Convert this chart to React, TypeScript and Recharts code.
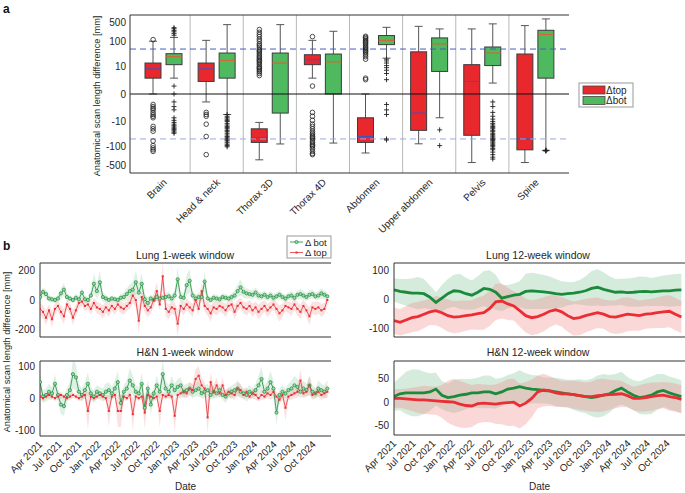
import React from 'react';
import { ComposedChart, Bar, Scatter, Line, Area, XAxis, YAxis, ReferenceLine } from 'recharts';

const FONT = '"Liberation Sans", Arial, Helvetica, sans-serif';
const TEXT = '#262626';
const AXIS = '#333';
const RED = '#e8282d';
const GREEN = '#4fb960';
const LINE_GREEN = '#1b8a3a';
const LINE_RED = '#ea2e34';

// ---------- panel a: box plots ----------
const CATEGORIES = ['Brain', 'Head & neck', 'Thorax 3D', 'Thorax 4D', 'Abdomen', 'Upper abdomen', 'Pelvis', 'Spine'];

const TOP_LO = [0, -1, -315, 3, -173, -77, -400, -400];
const TOP_Q1 = [3, 2, -68, 12, -68, -23, -36, -131];
const TOP_MED = [8, 8, -44, 19, -40, -4.3, 2, -50];
const TOP_Q3 = [14, 14, -20, 30, -7, 39, 12, 32];
const TOP_HI = [100, 108, -11, 108, 0, 370, 295, 395];

const BOT_LO = [3, -5, -78, -72, 22, -7, 1.6, -138];
const BOT_Q1 = [12, 3, -4.3, 0, 74, 6.2, 11, 3];
const BOT_MED = [25, 18, 14, 15.5, 108, 79, 35, 179];
const BOT_Q3 = [33, 35, 35, 32, 165, 134, 60, 262];
const BOT_HI = [140, 430, 430, 240, 340, 295, 460, 710];

const TOP_OUT = [
  [115, -1.5, -2, -2.5, -3, -4, -5, -6, -7, -16, -20, -25, -60, -90, -110, -130, -150],
  [-4, -5, -6, -13, -40, -200],
  [4, 5, 6, 7, 8, 9, 10, 12, 14, 16, 18, 20, 23, 26, 30, 35, 40, 45, 50, 60, 70, 80, 100, 120, 150, 180, 220, 280],
  [150, 1, -4, -6, -9, -13, -16, -20, -25, -30, -35, -40, -45, -50, -60, -70, -80, -90, -100, -120, -150, -180, -200],
  [2.5, 3, 20, 25, 30, 35, 40, 45, 50, 55, 60, 70, 80, 90, 100, 110, 125, 140, 155],
  [],
  [],
  [],
];
const BOT_OUT = [
  [170, 200, 230, 260, 300, 330, 1, 0, -1, -2, -3, -7, -9, -11, -13, -15, -17, -19, -21, -24, -27, -30],
  [-5, -6, -7, -8, -9, -10, -12, -14, -16, -18, -20, -23, -26, -30, -35, -40, -45, -50, -55, -60, -70, -80, -90, -100],
  [],
  [],
  [20, 17, 14, 11, 9, 7, 5, 2.5, -1.5, -3, -5, -50, -55],
  [-22, -90],
  [-1, -2, -4, -6, -8, -10, -12, -14, -16, -18, -20, -23, -26, -30, -34, -38, -42, -47, -52, -58, -65, -72, -80, -90, -100, -115, -130, -160, -200, -250, -295],
  [-135, -138, -142, -145],
];

const A_TICKS = [-500, -100, -10, 0, 10, 100, 500];

// ---------- panel b: time series ----------
const LUNG1_BOT = [20, 55, 40, 10, 5, 0, 10, 45, 70, 20, 10, 0, 15, 5, 50, 5, 0, 30, 110, 60, 120, 20, 10, 0, 10, 5, 0, 15, 20, 40, 60, 70, 120, 50, 110, 5, -20, 10, 0, 20, 10, 15, 20, 25, 10, 30, 140, 20, 15, 100, 130, 30, 10, 20, 20, 125, 10, 0, 15, 10, 5, 20, 15, 10, 20, 30, 60, 85, 55, 45, 40, 35, 50, 30, 25, 35, 20, 30, 15, 25, 35, 20, 10, 25, 30, 15, 35, 40, 30, 20, 35, 40, 25, 30, 45, 35, 25];
const LUNG1_BOT_SD = [25, 30, 30, 25, 20, 20, 25, 35, 45, 30, 20, 20, 25, 25, 35, 25, 20, 40, 70, 50, 80, 35, 25, 20, 20, 20, 20, 25, 30, 40, 45, 50, 80, 60, 70, 30, 40, 25, 20, 25, 25, 20, 25, 30, 25, 40, 80, 30, 30, 70, 80, 35, 25, 30, 30, 70, 25, 20, 25, 25, 20, 25, 25, 20, 25, 30, 45, 55, 40, 35, 30, 30, 35, 30, 25, 30, 25, 30, 25, 25, 30, 25, 25, 25, 30, 25, 30, 35, 30, 25, 30, 30, 25, 30, 35, 30, 25];
const LUNG1_TOP = [-60, -80, -120, -70, -130, -60, -40, -80, -110, -30, -60, -120, -70, -20, -10, -40, -30, -60, -20, -50, -60, -80, -50, -70, -40, -60, -30, -50, -60, -40, -20, 30, 0, -140, 20, -40, -70, -50, 0, 60, -30, 160, -60, -80, -50, -60, -160, -40, -60, -30, -50, -70, 0, -60, 60, -40, -60, -90, -50, -60, -40, -50, -70, -40, -30, -80, -40, -20, -50, -60, -40, -70, -50, -80, -60, -40, -70, -50, -30, -60, -90, -70, -40, -50, -60, -30, -60, -80, -40, -70, -110, -50, -60, -50, -70, -60, 0];
const LUNG1_TOP_SD = [40, 45, 50, 40, 55, 40, 35, 45, 50, 35, 40, 50, 40, 35, 30, 35, 35, 40, 35, 40, 40, 45, 40, 45, 35, 40, 35, 40, 40, 35, 40, 50, 45, 90, 50, 45, 45, 40, 45, 60, 40, 90, 45, 50, 40, 45, 90, 40, 45, 40, 40, 45, 45, 40, 60, 40, 45, 55, 40, 45, 40, 40, 45, 40, 40, 50, 40, 35, 40, 45, 40, 45, 40, 50, 45, 40, 45, 40, 40, 45, 55, 45, 40, 40, 45, 40, 45, 50, 40, 45, 60, 40, 45, 40, 45, 40, 40];

const HN1_BOT = [50, 5, 10, 20, 15, 45, 10, -20, -25, 10, 25, 75, 65, 20, 10, 25, 45, 15, 5, 20, 15, 10, 20, 25, 15, 30, 50, -15, 20, 30, 55, 40, 20, 15, 45, -30, 30, -20, 15, 40, 20, 75, 30, 20, 40, 25, 35, 40, 20, 25, 30, 20, 25, 30, 15, 20, 25, 10, 20, 15, 25, 10, 5, 15, 20, 25, 30, 20, 15, 10, 20, 15, 25, 40, 60, 20, 30, 50, 30, -45, 10, 20, 15, 25, 30, 40, 35, 20, 30, 25, 40, 20, 15, 30, 25, 20, 30];
const HN1_BOT_SD = [30, 20, 20, 25, 20, 30, 20, 30, 30, 20, 25, 45, 40, 25, 20, 25, 35, 20, 20, 20, 20, 20, 25, 25, 20, 25, 35, 25, 20, 25, 40, 30, 20, 20, 35, 35, 25, 30, 20, 30, 20, 45, 25, 20, 30, 20, 25, 25, 20, 20, 20, 20, 20, 25, 15, 20, 20, 15, 20, 15, 20, 15, 20, 15, 20, 20, 25, 20, 15, 20, 20, 15, 20, 30, 40, 20, 25, 35, 25, 40, 20, 20, 15, 20, 25, 30, 25, 20, 25, 20, 30, 20, 15, 25, 20, 20, 25];
const HN1_TOP = [5, 0, 5, 10, 5, 0, 5, 10, 5, 0, 5, 10, 5, 0, 5, 10, -40, 5, 0, 5, 10, 5, 0, -40, 5, 10, -40, -40, 5, 0, 10, -50, 5, 0, 5, -45, 10, 5, 0, 5, -40, 10, 5, 10, 5, -55, 10, 15, 20, 15, 30, 25, 60, 70, 40, 30, -60, 50, 20, 40, 15, 40, 10, 20, 15, 10, 30, 25, 10, 20, 5, 15, 10, 0, 10, 5, 15, 10, 20, 5, -5, 10, -30, 5, 10, 15, 20, 55, 15, 20, 40, 10, 15, 20, 10, 15, 20];
const HN1_TOP_SD = [10, 10, 8, 10, 8, 8, 10, 10, 8, 8, 10, 10, 8, 8, 10, 10, 60, 10, 8, 10, 10, 8, 8, 50, 10, 10, 50, 50, 10, 8, 10, 50, 10, 8, 10, 50, 10, 10, 8, 10, 50, 10, 10, 10, 10, 50, 10, 15, 15, 15, 20, 20, 30, 30, 25, 20, 50, 30, 20, 25, 15, 25, 15, 15, 15, 15, 20, 20, 15, 15, 10, 15, 15, 10, 15, 10, 15, 15, 20, 15, 15, 15, 40, 10, 15, 15, 20, 35, 15, 15, 30, 15, 15, 15, 15, 15, 20];

const LUNG12_BOT = [33, 28, 25, 22, 22, 20, 8, -10, 5, 20, 30, 28, 20, 15, 25, 38, 35, 25, 5, 10, 15, 18, 28, 30, 28, 26, 24, 20, 18, 20, 22, 25, 30, 38, 42, 35, 30, 25, 26, 24, 25, 27, 28, 26, 28, 30, 30, 32, 33];
const LUNG12_BOT_SD = [40, 42, 45, 50, 55, 50, 40, 35, 45, 50, 55, 60, 55, 50, 55, 60, 65, 60, 45, 40, 40, 45, 60, 62, 60, 58, 55, 50, 45, 40, 38, 42, 50, 60, 62, 58, 50, 45, 45, 48, 50, 52, 50, 48, 50, 52, 55, 55, 55];
const LUNG12_TOP = [-72, -78, -70, -62, -58, -50, -42, -38, -45, -55, -60, -58, -55, -52, -48, -45, -30, -8, -5, -15, -22, -38, -55, -62, -58, -50, -40, -35, -42, -55, -65, -62, -55, -50, -45, -50, -58, -60, -55, -50, -52, -55, -50, -48, -45, -42, -40, -50, -60];
const LUNG12_TOP_SD = [45, 45, 48, 50, 50, 48, 45, 50, 52, 55, 55, 55, 52, 50, 55, 58, 60, 62, 60, 55, 50, 55, 58, 60, 60, 58, 55, 50, 50, 55, 58, 60, 58, 55, 52, 50, 55, 58, 60, 58, 55, 52, 50, 50, 52, 55, 55, 55, 55];

const HN12_BOT = [12, 18, 20, 20, 20, 20, 22, 28, 15, 10, 12, 15, 17, 20, 20, 22, 22, 18, 22, 28, 30, 33, 30, 28, 27, 25, 24, 22, 20, 18, 16, 14, 12, 10, 12, 15, 18, 25, 30, 22, 15, 10, 12, 15, 22, 25, 20, 16, 12];
const HN12_BOT_SD = [30, 35, 45, 50, 50, 45, 40, 35, 30, 30, 35, 35, 32, 30, 32, 35, 35, 32, 30, 30, 32, 35, 32, 30, 30, 28, 28, 30, 30, 30, 32, 35, 35, 40, 45, 45, 40, 35, 35, 32, 32, 35, 38, 40, 38, 35, 35, 35, 35];
const HN12_TOP = [8, 8, 7, 6, 5, 5, 4, 3, 2, 1, 0, -4, -7, -8, -3, -2, -3, -4, -2, -1, 0, -8, -2, 8, 22, 26, 24, 20, 18, 18, 16, 14, 12, 12, 14, 15, 16, 17, 18, 14, 8, 8, 10, 12, 14, 15, 12, 10, 6];
const HN12_TOP_SD = [20, 20, 22, 25, 28, 30, 30, 30, 35, 45, 50, 50, 48, 45, 42, 40, 40, 42, 45, 50, 50, 48, 45, 40, 35, 35, 32, 30, 28, 28, 30, 30, 30, 32, 35, 35, 32, 30, 28, 25, 25, 28, 30, 30, 28, 28, 30, 30, 30];

const MONTHS = ['Jan', 'Feb', 'Mar', 'Apr', 'May', 'Jun', 'Jul', 'Aug', 'Sep', 'Oct', 'Nov', 'Dec'];
const DATE_LABELS = ['Apr 2021', 'Jul 2021', 'Oct 2021', 'Jan 2022', 'Apr 2022', 'Jul 2022', 'Oct 2022', 'Jan 2023', 'Apr 2023', 'Jul 2023', 'Oct 2023', 'Jan 2024', 'Apr 2024', 'Jul 2024', 'Oct 2024'];

const DAY = 86400000;
const T0 = Date.UTC(2021, 3, 1);
const T_END = Date.UTC(2024, 11, 22);
const DATE_TICKS = DATE_LABELS.map(s => {
  const [m, y] = s.split(' ');
  return Date.UTC(Number(y), MONTHS.indexOf(m), 1);
});
const fmtDate = (v: number) => {
  const d = new Date(v);
  return `${MONTHS[d.getUTCMonth()]} ${d.getUTCFullYear()}`;
};

const buildRows = (stepDays: number, bot: number[], botSd: number[], top: number[], topSd: number[]) =>
  bot.map((b, i) => ({
    t: T0 + i * stepDays * DAY,
    bot: b,
    botBand: [b - botSd[i], b + botSd[i]],
    top: top[i],
    topBand: [top[i] - topSd[i], top[i] + topSd[i]],
  }));

const boxRows = CATEGORIES.map((name, i) => ({
  name,
  topW: [TOP_LO[i], TOP_HI[i]],
  topBox: [TOP_Q1[i], TOP_Q3[i]],
  topMed: [TOP_MED[i], TOP_MED[i]],
  botW: [BOT_LO[i], BOT_HI[i]],
  botBox: [BOT_Q1[i], BOT_Q3[i]],
  botMed: [BOT_MED[i], BOT_MED[i]],
}));

// outliers sit on a numeric copy of the category axis: group i spans [i, i+1]
const BOX_OFFSET = 0.197;
const topOutPts = TOP_OUT.flatMap((vals, i) => vals.map(v => ({ x: i + 0.5 - BOX_OFFSET, y: v })));
const botOutPts = BOT_OUT.flatMap((vals, i) => vals.map(v => ({ x: i + 0.5 + BOX_OFFSET, y: v })));

const PAD = { left: 7, right: 7 };

const Whisker = (p: any) => {
  const cx = p.x + p.width / 2;
  const y1 = Math.min(p.y, p.y + p.height);
  const y2 = Math.max(p.y, p.y + p.height);
  const h = p.width / 4;
  return (
    <g>
      <line x1={cx} x2={cx} y1={y1} y2={y2} stroke="#555" />
      <line x1={cx - h} x2={cx + h} y1={y1} y2={y1} stroke="#555" />
      <line x1={cx - h} x2={cx + h} y1={y2} y2={y2} stroke="#555" />
    </g>
  );
};
const boxShape = (fill: string) => (p: any) => (
  <rect x={p.x} y={Math.min(p.y, p.y + p.height)} width={p.width} height={Math.abs(p.height)} fill={fill} stroke="#3c3c3c" strokeWidth={1} />
);
const medianShape = (stroke: string) => (p: any) => (
  <line x1={p.x} x2={p.x + p.width} y1={p.y} y2={p.y} stroke={stroke} strokeWidth={1} />
);
const Circ = (p: any) => <circle cx={p.cx} cy={p.cy} r={2.3} fill="none" stroke="#222" strokeWidth={0.8} />;
const Plus = (p: any) => (
  <path d={`M${p.cx - 2.5},${p.cy}h5M${p.cx},${p.cy - 2.5}v5`} stroke="#222" strokeWidth={0.9} />
);

const CatTick = (p: any) => {
  const x = p.x + 4;
  const y = p.y + 8;
  return (
    <text x={x} y={y} transform={`rotate(-45 ${x} ${y})`} textAnchor="end" fontSize={10} fill={TEXT}>
      {p.payload.value}
    </text>
  );
};

const DateTick = (p: any) => {
  const x = p.x + 3;
  const y = p.y + 7;
  return (
    <text x={x} y={y} transform={`rotate(-45 ${x} ${y})`} textAnchor="end" fontSize={10} fill={TEXT}>
      {fmtDate(p.payload.value)}
    </text>
  );
};

const greenDot = (p: any) => (
  <circle key={`g${p.index}`} cx={p.cx} cy={p.cy} r={1.6} fill="#9ad6a8" stroke={LINE_GREEN} strokeWidth={0.7} />
);
const redDot = (p: any) => (
  <rect key={`r${p.index}`} x={p.cx - 1} y={p.cy - 1} width={2} height={2} fill={LINE_RED} />
);

const BoxPanel: React.FC = () => (
  <ComposedChart width={685} height={240} data={boxRows} margin={{ top: 15, right: 116, bottom: 0, left: 0 }} barGap={5}>
    <XAxis dataKey="name" padding={PAD} height={67} interval={0} tickLine={false} tickSize={0} axisLine={{ stroke: AXIS }} tick={<CatTick />} />
    <XAxis xAxisId="bt" dataKey="name" padding={PAD} mirror interval={0} tick={false} tickSize={3} axisLine={false} tickLine={{ stroke: AXIS }} />
    <XAxis xAxisId="top" orientation="top" dataKey="name" padding={PAD} mirror tick={false} tickLine={false} axisLine={{ stroke: AXIS }} />
    <XAxis xAxisId="w" dataKey="name" padding={PAD} hide />
    <XAxis xAxisId="m" dataKey="name" padding={PAD} hide />
    <XAxis xAxisId="num" type="number" dataKey="x" domain={[0, 8]} allowDataOverflow padding={PAD} hide />
    <YAxis
      scale="symlog"
      domain={[-1000, 1000]}
      allowDataOverflow
      ticks={A_TICKS}
      interval={0}
      width={130}
      tickLine={false}
      tickSize={2}
      tickMargin={2}
      axisLine={{ stroke: AXIS }}
      tick={{ fontSize: 10, fill: TEXT }}
    />
    <YAxis yAxisId="lm" scale="symlog" domain={[-1000, 1000]} allowDataOverflow ticks={A_TICKS} interval={0} mirror tick={false} tickSize={3} axisLine={false} tickLine={{ stroke: AXIS }} />
    <YAxis yAxisId="r" orientation="right" scale="symlog" domain={[-1000, 1000]} allowDataOverflow ticks={A_TICKS} interval={0} mirror tick={false} tickSize={3} axisLine={{ stroke: AXIS }} tickLine={{ stroke: AXIS }} width={0} />
    {CATEGORIES.slice(1).map(c => (
      <ReferenceLine key={c} x={c} position="start" stroke="#b8b8b8" />
    ))}
    <Bar xAxisId="w" dataKey="topW" barSize={16} shape={Whisker} isAnimationActive={false} />
    <Bar xAxisId="w" dataKey="botW" barSize={16} shape={Whisker} isAnimationActive={false} />
    <Bar dataKey="topBox" barSize={16} shape={boxShape(RED)} isAnimationActive={false} />
    <Bar dataKey="botBox" barSize={16} shape={boxShape(GREEN)} isAnimationActive={false} />
    <Bar xAxisId="m" dataKey="topMed" barSize={16} shape={medianShape('#3a52c6')} isAnimationActive={false} />
    <Bar xAxisId="m" dataKey="botMed" barSize={16} shape={medianShape('#e8592c')} isAnimationActive={false} />
    <Scatter xAxisId="num" data={topOutPts} dataKey="y" shape={Circ} isAnimationActive={false} />
    <Scatter xAxisId="num" data={botOutPts} dataKey="y" shape={Plus} isAnimationActive={false} />
    <ReferenceLine y={0} stroke="#111" />
    <ReferenceLine y={50} stroke="#4a5cc4" strokeDasharray="6 4" />
    <ReferenceLine y={-50} stroke="#9aa6e0" strokeDasharray="6 4" />
  </ComposedChart>
);

interface TimeProps {
  rows: any[];
  width: number;
  height: number;
  marginTop: number;
  marginRight: number;
  xHeight: number;
  yDomain: [number, number];
  yTicks: number[];
  dates: boolean;
  weekly: boolean;
}

const TimePanel: React.FC<TimeProps> = ({ rows, width, height, marginTop, marginRight, xHeight, yDomain, yTicks, dates, weekly }) => (
  <ComposedChart width={width} height={height} data={rows} margin={{ top: marginTop, right: marginRight, bottom: 0, left: 0 }}>
    <XAxis
      dataKey="t"
      type="number"
      domain={[T0, T_END]}
      allowDataOverflow
      ticks={DATE_TICKS}
      interval={0}
      height={xHeight}
      tickLine={false}
      tickSize={0}
      axisLine={{ stroke: AXIS }}
      tick={dates ? <DateTick /> : false}
      label={dates ? { value: 'Date', position: 'insideBottom', offset: 3, fontSize: 10, fill: TEXT } : undefined}
    />
    <XAxis xAxisId="bt" dataKey="t" type="number" domain={[T0, T_END]} allowDataOverflow ticks={DATE_TICKS} interval={0} mirror tick={false} tickSize={3} axisLine={false} tickLine={{ stroke: AXIS }} />
    <XAxis xAxisId="top" orientation="top" dataKey="t" type="number" domain={[T0, T_END]} allowDataOverflow ticks={DATE_TICKS} interval={0} mirror tick={false} tickSize={3} axisLine={{ stroke: AXIS }} tickLine={{ stroke: AXIS }} />
    <YAxis domain={yDomain} allowDataOverflow ticks={yTicks} interval={0} width={40} tickLine={false} tickSize={3} tickMargin={2} axisLine={{ stroke: AXIS }} tick={{ fontSize: 10, fill: TEXT }} />
    <YAxis yAxisId="lm" domain={yDomain} allowDataOverflow ticks={yTicks} interval={0} mirror tick={false} tickSize={3} axisLine={false} tickLine={{ stroke: AXIS }} />
    <YAxis yAxisId="r" orientation="right" domain={yDomain} allowDataOverflow ticks={yTicks} interval={0} mirror tick={false} tickSize={3} width={0} axisLine={{ stroke: AXIS }} tickLine={{ stroke: AXIS }} />
    <Area dataKey="botBand" type="linear" stroke="none" fill="#7fc394" fillOpacity={weekly ? 0.25 : 0.33} isAnimationActive={false} />
    <Area dataKey="topBand" type="linear" stroke="none" fill="#f08a8a" fillOpacity={weekly ? 0.25 : 0.33} isAnimationActive={false} />
    <Line dataKey="bot" type="linear" stroke={LINE_GREEN} strokeWidth={weekly ? 0.8 : 2.8} dot={weekly ? greenDot : false} isAnimationActive={false} />
    <Line dataKey="top" type="linear" stroke={LINE_RED} strokeWidth={weekly ? 0.8 : 2.8} dot={weekly ? redDot : false} isAnimationActive={false} />
  </ComposedChart>
);

const lung1 = buildRows(14, LUNG1_BOT, LUNG1_BOT_SD, LUNG1_TOP, LUNG1_TOP_SD);
const hn1 = buildRows(14, HN1_BOT, HN1_BOT_SD, HN1_TOP, HN1_TOP_SD);
const lung12 = buildRows(28, LUNG12_BOT, LUNG12_BOT_SD, LUNG12_TOP, LUNG12_TOP_SD);
const hn12 = buildRows(28, HN12_BOT, HN12_BOT_SD, HN12_TOP, HN12_TOP_SD);

const abs = (left: number, top: number): React.CSSProperties => ({ position: 'absolute', left, top });

const App: React.FC = () => (
  <div style={{ position: 'absolute', left: 0, top: 0, width: 685, height: 493, background: '#fff', fontFamily: FONT, overflow: 'hidden' }}>
    <div style={abs(0, 0)}>
      <BoxPanel />
    </div>
    <div style={abs(0, 250)}>
      <TimePanel rows={lung1} width={332} height={90} marginTop={13} marginRight={1} xHeight={3} yDomain={[-250, 250]} yTicks={[-200, 0, 200]} dates={false} weekly />
    </div>
    <div style={abs(0, 345)}>
      <TimePanel rows={hn1} width={332} height={148} marginTop={16} marginRight={1} xHeight={57} yDomain={[-118, 116]} yTicks={[-100, 0, 100]} dates weekly />
    </div>
    <div style={abs(354, 250)}>
      <TimePanel rows={lung12} width={331} height={90} marginTop={13} marginRight={0} xHeight={3} yDomain={[-128, 125]} yTicks={[-100, 0, 100]} dates={false} weekly={false} />
    </div>
    <div style={abs(354, 345)}>
      <TimePanel rows={hn12} width={331} height={148} marginTop={16} marginRight={0} xHeight={58} yDomain={[-70, 88]} yTicks={[-50, 0, 50]} dates weekly={false} />
    </div>
    <svg width={685} height={493} style={{ position: 'absolute', left: 0, top: 0, pointerEvents: 'none' }} fontFamily={FONT}>
      <text x={3} y={13} fontSize={12} fontWeight="bold" fill="#111">a</text>
      <text x={3} y={250} fontSize={12} fontWeight="bold" fill="#111">b</text>

      <text x={97} y={96} fontSize={9.2} textAnchor="middle" dominantBaseline="central" transform="rotate(-90 97 96)" fill={TEXT}>
        Anatomical scan length difference [mm]
      </text>

      <rect x={579} y={83} width={54} height={24} fill="#fff" stroke="#999" />
      <rect x={583} y={86} width={22} height={8} fill={RED} stroke="#444" strokeWidth={0.8} />
      <text x={606} y={93.5} fontSize={10} fill={TEXT}>Δtop</text>
      <rect x={583} y={96.5} width={22} height={8} fill={GREEN} stroke="#444" strokeWidth={0.8} />
      <text x={606} y={104} fontSize={10} fill={TEXT}>Δbot</text>

      <text x={185} y={259} fontSize={10.5} textAnchor="middle" fill={TEXT}>Lung 1-week window</text>
      <text x={185} y={356} fontSize={10.5} textAnchor="middle" fill={TEXT}>H&amp;N 1-week window</text>
      <text x={538} y={259} fontSize={10.5} textAnchor="middle" fill={TEXT}>Lung 12-week window</text>
      <text x={538} y={356} fontSize={10.5} textAnchor="middle" fill={TEXT}>H&amp;N 12-week window</text>

      <text x={7} y={352} fontSize={9.2} textAnchor="middle" dominantBaseline="central" transform="rotate(-90 7 352)" fill={TEXT}>
        Anatomical scan length difference [mm]
      </text>

      <rect x={287} y={236} width={44} height={22} fill="#fff" stroke="#999" />
      <line x1={290} x2={303} y1={242} y2={242} stroke={LINE_GREEN} strokeWidth={0.8} />
      <circle cx={296.5} cy={242} r={1.6} fill="#9ad6a8" stroke={LINE_GREEN} strokeWidth={0.7} />
      <text x={305} y={245.5} fontSize={9.5} fill={TEXT}>Δ bot</text>
      <line x1={290} x2={303} y1={252.5} y2={252.5} stroke={LINE_RED} strokeWidth={0.8} />
      <rect x={295.5} y={251.5} width={2} height={2} fill={LINE_RED} />
      <text x={305} y={256} fontSize={9.5} fill={TEXT}>Δ top</text>
    </svg>
  </div>
);

export default App;
